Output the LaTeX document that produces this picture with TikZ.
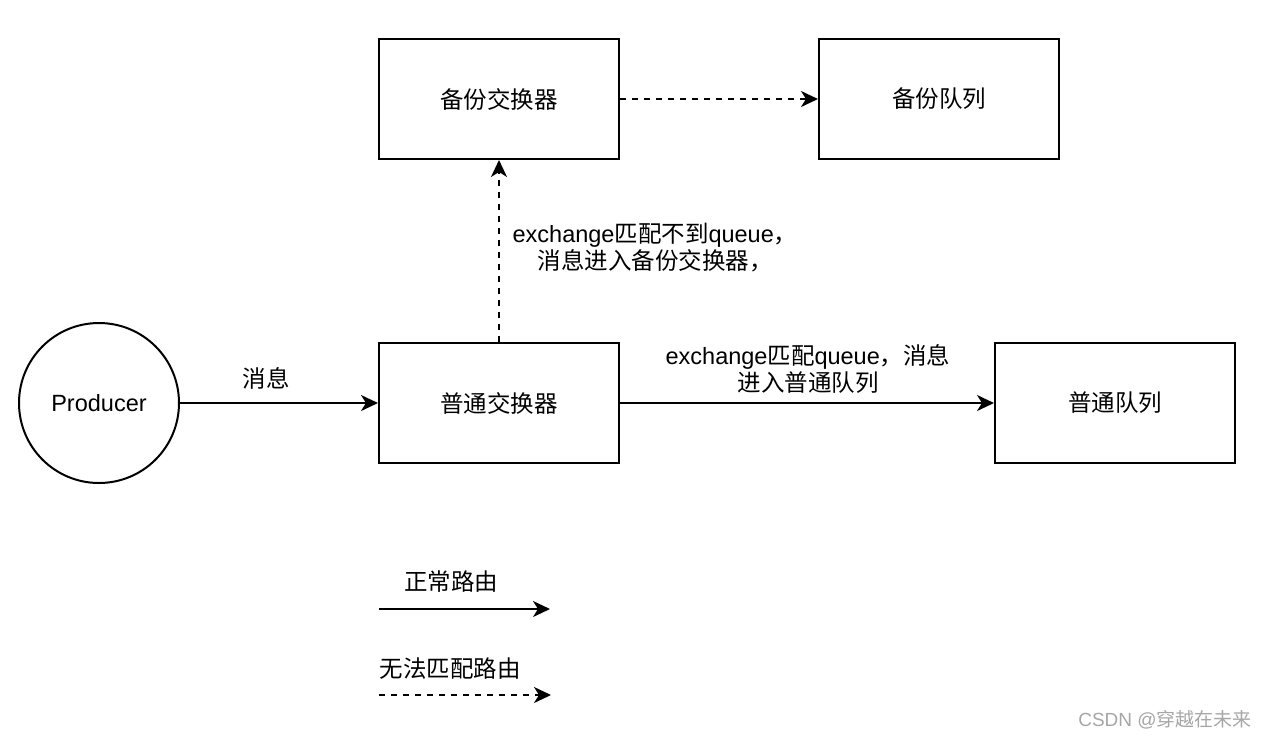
\documentclass[tikz,border=0pt]{standalone}
\usepackage{fontspec}
\setmainfont{Noto Sans CJK SC}
\newfontfamily\lat{Liberation Sans}
\usetikzlibrary{arrows.meta}
\begin{document}
\begin{tikzpicture}[x=1pt,y=-1pt,
  every node/.style={font=\fontsize{23.5}{27}\selectfont},
  boxnode/.style={draw,line width=2pt,minimum width=240pt,minimum height=120pt,inner sep=0pt},
  conn/.style={line width=2pt,-{Stealth[length=17pt,width=16pt,inset=5pt]}},
  dconn/.style={conn,dash pattern=on 6pt off 6pt},
  lbl/.style={align=center,inner sep=0pt}]
\useasboundingbox (0,0) rectangle (1266,740);
\node[draw,circle,line width=2pt,minimum size=160pt,inner sep=0pt] (prod) at (99,403) {\lat Producer};
\node[boxnode] (ex) at (499,403) {普通交换器};
\node[boxnode] (bex) at (499,99) {备份交换器};
\node[boxnode] (bq) at (939,99) {备份队列};
\node[boxnode] (q) at (1115,403) {普通队列};
\draw[conn] (prod) -- (ex);
\node[lbl] (l1) at (266,378) {消息};
\draw[conn] (ex) -- (q);
\node[lbl] (l2) at (808,369) {{\lat exchange}匹配{\lat queue}，消息\\进入普通队列};
\draw[dconn] (ex) -- (bex);
\node[lbl] (l3) at (655,248) {{\lat exchange}匹配不到{\lat queue}，\\消息进入备份交换器，};
\draw[dconn] (bex) -- (bq);
\node[lbl] (lg1) at (451,582) {正常路由};
\coordinate (a1) at (379,609);
\coordinate (a2) at (550,609);
\draw[conn] (a1) -- (a2);
\node[lbl] (lg2) at (450,669) {无法匹配路由};
\coordinate (b1) at (379,695);
\coordinate (b2) at (551,695);
\draw[dconn] (b1) -- (b2);
\node[lbl,text=black!35,font=\fontsize{19}{22}\selectfont] (wm) at (1165,720) {{\lat CSDN @}穿越在未来};
\end{tikzpicture}
\end{document}
